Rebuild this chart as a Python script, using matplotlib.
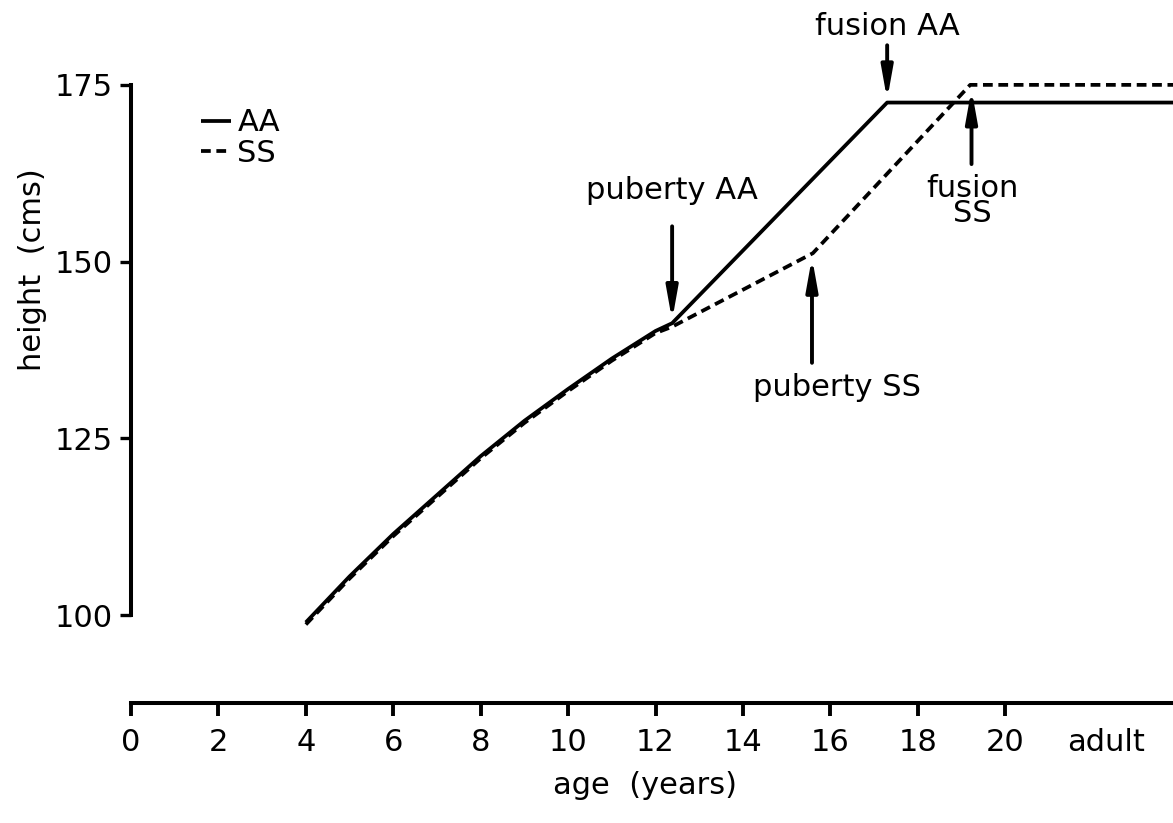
import matplotlib.pyplot as plt

# growth curves, height (cm) against age (years)
age_aa = [4, 5, 6, 7, 8, 9, 10, 11, 12, 12.38, 17.3, 23.9]
height_aa = [99.0, 105.5, 111.5, 117.0, 122.5, 127.5, 132.0, 136.3, 140.2, 141.3, 172.5, 172.5]

age_ss = [4, 5, 6, 7, 8, 9, 10, 11, 12, 12.38, 15.6, 19.2, 23.9]
height_ss = [98.7, 105.2, 111.2, 116.7, 122.2, 127.2, 131.7, 136.0, 139.9, 140.8, 151.2, 175.0, 175.0]

x_ticks = [0, 2, 4, 6, 8, 10, 12, 14, 16, 18, 20, 22.3]
x_labels = ['0', '2', '4', '6', '8', '10', '12', '14', '16', '18', '20', 'adult']
y_ticks = [100, 125, 150, 175]

# annotations: text, text position, arrow tail, arrow head
notes = [
    ('fusion AA', (17.3, 183.3), (17.3, 180.6), (17.3, 172.9)),
    ('puberty AA', (12.38, 160.0), (12.38, 155.0), (12.38, 141.7)),
    ('puberty SS', (16.15, 132.2), (15.58, 135.7), (15.58, 150.6)),
    ('fusion\nSS', (19.25, 158.6), (19.23, 163.8), (19.23, 174.4)),
]

FS = 22
plt.rcParams['font.family'] = 'DejaVu Sans'

fig = plt.figure(figsize=(11.73, 8.23), dpi=100)
ax = fig.add_axes([0.1117, 0.1458, 0.8883, 0.8542])
ax.set_xlim(0, 23.84)
ax.set_ylim(87.6, 187.0)

ax.plot(age_aa, height_aa, color='black', lw=2.7, label='AA', solid_capstyle='butt')
ax.plot(age_ss, height_ss, color='black', lw=2.7, ls=(0, (2.6, 1.5)), label='SS')

for text, xy_text, tail, head in notes:
    ax.text(xy_text[0], xy_text[1], text, ha='center', va='center', fontsize=FS,
            linespacing=0.85)
    ax.annotate('', xy=head, xytext=tail,
                arrowprops=dict(arrowstyle='-|>,head_length=0.95,head_width=0.17',
                                mutation_scale=20, lw=2.8, color='black',
                                shrinkA=0, shrinkB=0))

# axes drawn as separate bars
for side in ['top', 'right']:
    ax.spines[side].set_visible(False)
ax.spines['left'].set_bounds(100, 175)
ax.spines['bottom'].set_bounds(0, 23.84)
ax.spines['left'].set_linewidth(2.9)
ax.spines['bottom'].set_linewidth(2.9)

ax.set_yticks(y_ticks)
ax.set_xticks(x_ticks)
ax.set_xticklabels(x_labels)
ax.tick_params(axis='y', length=8, width=2.4, pad=5, labelsize=FS)
ax.tick_params(axis='x', length=9, width=2.8, pad=9, labelsize=FS)
ax.xaxis.get_major_ticks()[-1].tick1line.set_visible(False)

fig.text(0.028, 0.672, 'height  (cms)', rotation=90, ha='center', va='center', fontsize=FS)
fig.text(0.55, 0.045, 'age  (years)', ha='center', va='center', fontsize=FS)

ax.legend(frameon=False, fontsize=FS, handlelength=1.0, handletextpad=0.2,
          labelspacing=0.05, loc='upper left', bbox_to_anchor=(0.158, 0.887),
          bbox_transform=fig.transFigure, borderpad=0)

fig.savefig('out.png', dpi=100)
